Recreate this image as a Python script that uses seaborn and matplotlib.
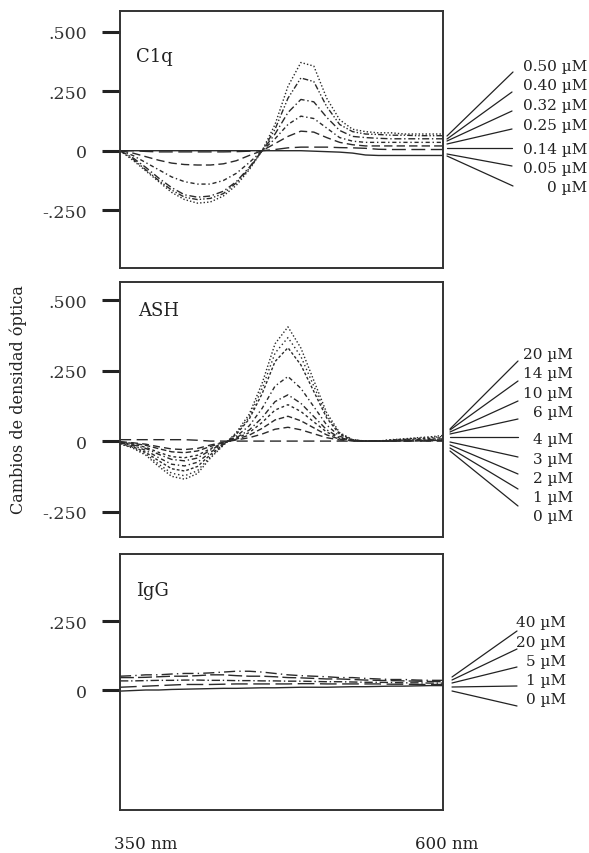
import numpy as np
import pandas as pd
import matplotlib
matplotlib.use("Agg")
import matplotlib.pyplot as plt
import seaborn as sns
from matplotlib.lines import Line2D

# wavelengths (nm)
wl = [350, 360, 370, 380, 390, 400, 410, 420, 430, 440, 450, 460, 470,
      480, 490, 500, 510, 520, 530, 540, 550, 560, 570, 580, 590, 600]

c1q_labels = ["0.50 µM", "0.40 µM", "0.32 µM", "0.25 µM", "0.14 µM", "0.05 µM", "0 µM"]
c1q_050 = [0.0, -0.04, -0.085, -0.13, -0.175, -0.205, -0.22, -0.215, -0.19, -0.145, -0.08, 0.0, 0.11,
           0.27, 0.37, 0.355, 0.22, 0.13, 0.09, 0.08, 0.075, 0.075, 0.07, 0.07, 0.07, 0.07]
c1q_040 = [0.0, -0.035, -0.08, -0.125, -0.165, -0.195, -0.205, -0.2, -0.18, -0.135, -0.075, 0.0, 0.09,
           0.22, 0.305, 0.29, 0.185, 0.11, 0.08, 0.07, 0.068, 0.065, 0.065, 0.063, 0.063, 0.063]
c1q_032 = [0.0, -0.03, -0.07, -0.115, -0.155, -0.185, -0.195, -0.19, -0.17, -0.13, -0.07, 0.0, 0.07,
           0.16, 0.215, 0.205, 0.14, 0.085, 0.06, 0.055, 0.052, 0.05, 0.05, 0.05, 0.05, 0.05]
c1q_025 = [0.0, -0.02, -0.05, -0.08, -0.11, -0.13, -0.14, -0.14, -0.125, -0.095, -0.05, 0.0, 0.05,
           0.11, 0.145, 0.135, 0.095, 0.055, 0.04, 0.035, 0.035, 0.035, 0.035, 0.035, 0.035, 0.035]
c1q_014 = [0.0, -0.01, -0.025, -0.04, -0.052, -0.058, -0.06, -0.06, -0.055, -0.042, -0.02, 0.0, 0.03,
           0.06, 0.082, 0.078, 0.055, 0.035, 0.025, 0.02, 0.02, 0.02, 0.02, 0.02, 0.02, 0.02]
c1q_005 = [0.0, 0.0, -0.003, -0.005, -0.005, -0.005, -0.005, -0.005, -0.005, -0.004, -0.002, 0.0, 0.005,
           0.012, 0.015, 0.015, 0.015, 0.013, 0.012, 0.01, 0.006, 0.005, 0.005, 0.005, 0.005, 0.005]
c1q_000 = [0.0, 0.0, 0.0, 0.0, 0.0, 0.0, 0.0, 0.0, 0.0, 0.0, 0.0, 0.0, 0.0,
           0.0, 0.0, -0.002, -0.004, -0.006, -0.01, -0.018, -0.02, -0.02, -0.02, -0.02, -0.02, -0.02]

ash_labels = ["20 µM", "14 µM", "10 µM", "6 µM", "4 µM", "3 µM", "2 µM", "1 µM", "0 µM"]
ash_20 = [-0.01, -0.025, -0.05, -0.09, -0.125, -0.135, -0.115, -0.06, -0.015, 0.03, 0.095, 0.205, 0.345,
          0.405, 0.33, 0.215, 0.1, 0.03, 0.005, 0.0, 0.0, 0.005, 0.008, 0.012, 0.015, 0.02]
ash_14 = [-0.01, -0.022, -0.045, -0.082, -0.114, -0.123, -0.105, -0.055, -0.014, 0.027, 0.086, 0.186, 0.312,
          0.367, 0.3, 0.195, 0.09, 0.027, 0.005, 0.0, 0.0, 0.004, 0.007, 0.01, 0.013, 0.016]
ash_10 = [-0.008, -0.02, -0.04, -0.07, -0.098, -0.106, -0.09, -0.048, -0.012, 0.024, 0.078, 0.168, 0.282,
          0.331, 0.27, 0.176, 0.082, 0.024, 0.004, 0.0, 0.0, 0.003, 0.006, 0.008, 0.01, 0.012]
ash_6 = [-0.006, -0.016, -0.033, -0.059, -0.082, -0.088, -0.075, -0.04, -0.01, 0.017, 0.054, 0.116, 0.195,
         0.229, 0.187, 0.122, 0.057, 0.017, 0.003, 0.0, 0.0, 0.002, 0.004, 0.005, 0.006, 0.008]
ash_4 = [-0.005, -0.013, -0.026, -0.047, -0.065, -0.07, -0.06, -0.032, -0.008, 0.012, 0.039, 0.083, 0.14,
         0.164, 0.134, 0.087, 0.04, 0.012, 0.002, 0.0, 0.0, 0.0, 0.002, 0.003, 0.004, 0.005]
ash_3 = [-0.004, -0.011, -0.022, -0.04, -0.055, -0.059, -0.05, -0.027, -0.007, 0.01, 0.03, 0.066, 0.11,
         0.129, 0.105, 0.068, 0.032, 0.01, 0.002, 0.0, 0.0, 0.0, 0.002, 0.002, 0.003, 0.004]
ash_2 = [-0.003, -0.008, -0.015, -0.027, -0.038, -0.041, -0.035, -0.019, -0.005, 0.007, 0.021, 0.045, 0.075,
         0.088, 0.072, 0.047, 0.022, 0.007, 0.001, 0.0, 0.0, 0.0, 0.001, 0.002, 0.002, 0.003]
ash_1 = [-0.002, -0.006, -0.011, -0.02, -0.028, -0.03, -0.026, -0.014, -0.004, 0.004, 0.012, 0.025, 0.042,
         0.049, 0.04, 0.026, 0.012, 0.004, 0.001, 0.0, 0.0, 0.0, 0.0, 0.001, 0.001, 0.002]
ash_0 = [0.005, 0.005, 0.005, 0.005, 0.005, 0.005, 0.003, 0.0, 0.0, 0.0, 0.0, 0.0, 0.0,
         0.0, 0.0, 0.0, 0.0, 0.0, 0.0, 0.0, 0.0, 0.0, 0.0, 0.0, 0.0, 0.0]

igg_labels = ["40 µM", "20 µM", "5 µM", "1 µM", "0 µM"]
igg_40 = [0.05, 0.052, 0.055, 0.055, 0.058, 0.06, 0.06, 0.062, 0.065, 0.068, 0.068, 0.065, 0.06,
          0.055, 0.052, 0.05, 0.048, 0.045, 0.045, 0.042, 0.04, 0.038, 0.038, 0.036, 0.035, 0.035]
igg_20 = [0.045, 0.045, 0.046, 0.048, 0.05, 0.05, 0.052, 0.055, 0.055, 0.052, 0.05, 0.05, 0.048,
          0.045, 0.044, 0.042, 0.04, 0.04, 0.038, 0.036, 0.035, 0.034, 0.033, 0.032, 0.031, 0.03]
igg_5 = [0.033, 0.033, 0.034, 0.035, 0.035, 0.036, 0.036, 0.035, 0.035, 0.034, 0.034, 0.033, 0.033,
         0.032, 0.032, 0.031, 0.03, 0.03, 0.029, 0.028, 0.028, 0.027, 0.026, 0.026, 0.025, 0.025]
igg_1 = [0.01, 0.012, 0.014, 0.016, 0.018, 0.02, 0.02, 0.02, 0.021, 0.022, 0.022, 0.022, 0.022,
         0.022, 0.023, 0.023, 0.022, 0.022, 0.022, 0.022, 0.022, 0.021, 0.021, 0.02, 0.02, 0.02]
igg_0 = [-0.004, -0.002, 0.0, 0.0, 0.002, 0.003, 0.004, 0.005, 0.006, 0.006, 0.007, 0.008, 0.008,
         0.009, 0.01, 0.01, 0.01, 0.011, 0.012, 0.012, 0.013, 0.014, 0.014, 0.015, 0.016, 0.016]


def long_df(labels, series):
    rows = []
    for lab, vals in zip(labels, series):
        for x, y in zip(wl, vals):
            rows.append({"nm": x, "od": y, "conc": lab})
    return pd.DataFrame(rows)


sns.set_style("white")
plt.rcParams["font.family"] = ["DejaVu Serif"]

W, H = 589, 854
fig = plt.figure(figsize=(W / 100, H / 100), dpi=100)


def px(x, y):
    return x / W, 1 - y / H


panels = [
    dict(name="C1q", labels=c1q_labels,
         series=[c1q_050, c1q_040, c1q_032, c1q_025, c1q_014, c1q_005, c1q_000],
         top=12, bot=269, ylim=(-0.492, 0.586),
         ticks=[0.5, 0.25, 0, -0.25], ticklabels=[".500", ".250", "0", "-.250"],
         name_pos=(0.05, 0.825),
         lab_y=[67, 86, 106, 126, 150, 169, 188], lab_x=587,
         start=[(447, 137), (447, 140), (447, 142), (447, 145), (447, 149), (447, 155), (447, 157)],
         end=[(513, 73), (512, 93), (512, 112), (512, 130), (512, 149), (512, 167), (513, 187)]),
    dict(name="ASH", labels=ash_labels,
         series=[ash_20, ash_14, ash_10, ash_6, ash_4, ash_3, ash_2, ash_1, ash_0],
         top=283, bot=538, ylim=(-0.340, 0.564),
         ticks=[0.5, 0.25, 0, -0.25], ticklabels=[".500", ".250", "0", "-.250"],
         name_pos=(0.055, 0.89),
         lab_y=[355, 374, 394, 413, 440, 460, 479, 498, 517], lab_x=573,
         start=[(450, 430), (450, 431), (450, 433), (450, 435), (450, 438), (450, 443), (450, 446), (450, 449), (450, 452)],
         end=[(518, 362), (518, 382), (518, 402), (518, 420), (518, 438), (518, 458), (518, 475), (518, 490), (518, 507)]),
    dict(name="IgG", labels=igg_labels,
         series=[igg_40, igg_20, igg_5, igg_1, igg_0],
         top=555, bot=811, ylim=(-0.435, 0.493),
         ticks=[0.25, 0], ticklabels=[".250", "0"],
         name_pos=(0.05, 0.86),
         lab_y=[623, 643, 662, 681, 700], lab_x=566,
         start=[(452, 678), (452, 681), (452, 684), (452, 688), (452, 692)],
         end=[(517, 632), (517, 650), (517, 668), (517, 687), (517, 707)]),
]

dash_c1q = [(1, 1.5), (4, 1.5, 1, 1.5, 1, 1.5), (5, 2, 1, 2), (3, 2, 1, 2),
            (6, 3), (10, 4), ""]
dash_ash = [(1, 1.5), (1, 2), (2, 1.5), (3, 2, 1, 2), (4, 2, 1, 2),
            (2, 2), (4, 2), (5, 3), (8, 4)]
dash_igg = [(8, 3, 1, 3), (10, 3), (6, 2, 1, 2), (12, 4), ""]

left, right = 120, 443
for p, ds in zip(panels, [dash_c1q, dash_ash, dash_igg]):
    ax = fig.add_axes([left / W, 1 - p["bot"] / H, (right - left) / W, (p["bot"] - p["top"]) / H])
    df = long_df(p["labels"], p["series"])
    dashes = {lab: d for lab, d in zip(p["labels"], ds)}
    palette = {lab: "#2a2a2a" for lab in p["labels"]}
    sns.lineplot(data=df, x="nm", y="od", hue="conc", style="conc", palette=palette,
                 dashes=dashes, hue_order=p["labels"], style_order=p["labels"],
                 legend=False, linewidth=1.0, ax=ax)
    ax.set_xlim(350, 600)
    ax.set_ylim(*p["ylim"])
    ax.set_xticks([])
    ax.set_yticks(p["ticks"])
    ax.set_yticklabels(p["ticklabels"], fontsize=12.5, color="#333333")
    ax.tick_params(axis="y", direction="out", length=13, width=2.2, color="#222222", pad=11, left=True)
    ax.set_xlabel("")
    ax.set_ylabel("")
    for s in ax.spines.values():
        s.set_visible(True)
        s.set_color("#333333")
        s.set_linewidth(1.4)
    ax.text(p["name_pos"][0], p["name_pos"][1], p["name"], transform=ax.transAxes,
            fontsize=13, ha="left", va="center", color="#222222")

    # leader lines and concentration labels
    for lab, ly, (sx, sy), (ex, ey) in zip(p["labels"], p["lab_y"], p["start"], p["end"]):
        x0, y0 = px(sx, sy)
        x1, y1 = px(ex, ey)
        fig.add_artist(Line2D([x0, x1], [y0, y1], color="#222222", linewidth=0.9))
        tx, ty = px(p["lab_x"], ly)
        fig.text(tx, ty, lab, ha="right", va="center", fontsize=11, color="#222222")

fig.text(*px(18, 400), "Cambios de densidad óptica", rotation=90, ha="center", va="center",
         fontsize=11.5, color="#222222")
fig.text(*px(146, 845), "350 nm", ha="center", va="center", fontsize=12, color="#222222")
fig.text(*px(447, 845), "600 nm", ha="center", va="center", fontsize=12, color="#222222")

fig.savefig("out.png", dpi=100)
